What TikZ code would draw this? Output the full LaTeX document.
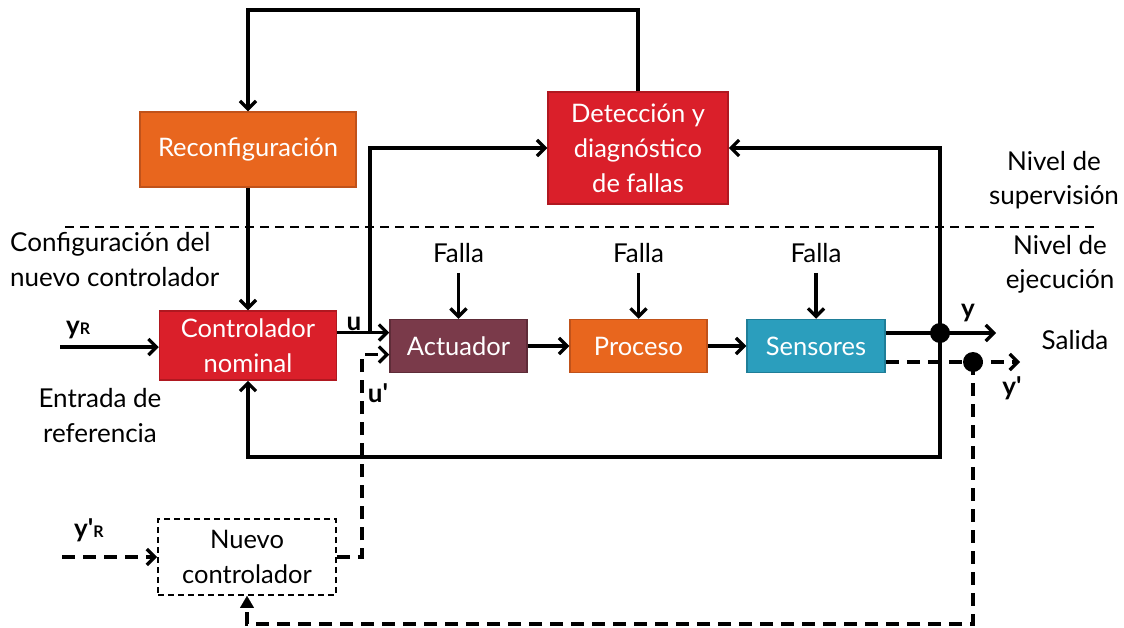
\documentclass[tikz,border=0pt]{standalone}
\usepackage{fontspec}
\setmainfont{Lato}[Ligatures=TeXOff]
\usetikzlibrary{arrows.meta,calc}
\definecolor{cred}{HTML}{DA1F2A}
\definecolor{credb}{HTML}{B01820}
\definecolor{corange}{HTML}{E8661E}
\definecolor{coranb}{HTML}{C0521A}
\definecolor{cmaroon}{HTML}{7A3A4A}
\definecolor{cmarb}{HTML}{5E2C38}
\definecolor{cteal}{HTML}{2B9EBD}
\definecolor{ctealb}{HTML}{1F7E98}
\tikzset{
  blk/.style={draw, line width=1.5pt, text=white, align=center, inner sep=2pt, font=\fontsize{25.5}{35}\selectfont},
  arr/.style={line width=3.3pt, -{Straight Barb[length=8pt,width=16pt,line width=3.3pt]}},
  darr/.style={arr, dash pattern=on 13pt off 8pt},
  tarr/.style={line width=3.3pt, dash pattern=on 13pt off 8pt, -{Triangle[length=12pt,width=14pt,line width=0.1pt]}},
  lbl/.style={align=center, inner sep=0pt},
  dot/.style={circle, fill=black, inner sep=0pt, minimum size=20pt},
}
\begin{document}
\begin{tikzpicture}[x=1pt,y=-1pt,font=\fontsize{26}{34.5}\selectfont]
\useasboundingbox (0,0) rectangle (1124,627);
% blocks
\node[blk, fill=corange, draw=coranb, minimum width=216pt, minimum height=75pt] (reconf) at (248,149.5) {Reconfiguración};
\node[blk, fill=cred, draw=credb, minimum width=180pt, minimum height=112pt] (detec) at (638,148) {Detección y\\diagnóstico\\de fallas};
\node[blk, fill=cred, draw=credb, minimum width=177pt, minimum height=69pt] (ctrl) at (248,345.5) {Controlador\\nominal};
\node[blk, fill=cmaroon, draw=cmarb, minimum width=137pt, minimum height=53pt] (act) at (458.5,346) {Actuador};
\node[blk, fill=corange, draw=coranb, minimum width=137pt, minimum height=53pt] (proc) at (638.5,346) {Proceso};
\node[blk, fill=cteal, draw=ctealb, minimum width=138pt, minimum height=53pt] (sens) at (816,346) {Sensores};
\node[blk, draw=black, text=black, line width=1.8pt, dash pattern=on 6pt off 4pt, minimum width=178pt, minimum height=76pt] (nuevo) at (247,557) {Nuevo\\controlador};
% falla
\node[lbl, inner ysep=10pt] (f1) at (458.5,253) {Falla};
\node[lbl, inner ysep=10pt] (f2) at (638.5,253) {Falla};
\node[lbl, inner ysep=10pt] (f3) at (816,253) {Falla};
\draw[arr] (f1.south) -- (act.north);
\draw[arr] (f2.south) -- (proc.north);
\draw[arr] (f3.south) -- (sens.north);
% texts
\node[lbl, align=left, anchor=west] (conf) at (10,259.5) {Configuración del\\nuevo controlador};
\node[lbl] (entr) at (100,415.5) {Entrada de\\referencia};
\node[lbl] (nsup) at (1054,180) {Nivel de\\supervisión};
\node[lbl] (neje) at (1060,264.5) {Nivel de\\ejecución};
\node[lbl] (sal) at (1075,340) {Salida};
\node[lbl] (ulab) at (354,324) {\bfseries u};
\node[lbl] (ulab2) at (378,393) {\bfseries u'};
\node[lbl] (ylab) at (968,313) {\bfseries y};
\node[lbl] (ylab2) at (1012,388) {\bfseries y'};
\node[lbl, anchor=base west] (yr) at (66,334) {\bfseries y{\fontsize{16}{16}\selectfont R}};
\node[lbl, anchor=base west] (yr2) at (74,537) {\bfseries y'{\fontsize{16}{16}\selectfont R}};
% separator
\coordinate (s1) at (65,227);
\coordinate (s2) at (1095,227);
\draw[line width=1.8pt, dash pattern=on 9pt off 6pt] (s1) -- (s2);
% coordinates
\coordinate (uin) at ([yshift=13.5pt]act.west);
\coordinate (uin2) at ([yshift=-8.5pt]act.west);
\coordinate (ub) at (uin -| 370,0);
\coordinate (yro) at (60,347);
\coordinate (yro2) at (62,557);
\coordinate (top) at (638,10);
\coordinate (sout) at ([yshift=13pt]sens.east);
\coordinate (sout2) at ([yshift=-16pt]sens.east);
\coordinate (yend) at (sout -| 996,0);
\coordinate (yend2) at (sout2 -| 1020,0);
\coordinate (bot) at (940,457);
\coordinate (bot2) at (973,624);
\coordinate (nv) at (362,557);
% connectors
\draw[arr] (detec.north) -- (top) -| (reconf.north);
\draw[arr] (reconf.south) -- (ctrl.north);
\draw[arr] (yro) -- (yro -| ctrl.west);
\draw[arr] (uin -| ctrl.east) -- (uin);
\draw[arr] (ub) |- (detec.west);
\draw[arr] (act.east) -- (proc.west);
\draw[arr] (proc.east) -- (sens.west);
\draw[arr] (sout) -- (yend);
\node[dot] (d1) at (sout -| 940,0) {};
\draw[arr] (d1.center) |- (detec.east);
\draw[arr] (d1.center) -- (bot) -| (ctrl.south);
\draw[darr] (sout2) -- (yend2);
\node[dot] (d2) at (sout2 -| 973,0) {};
\draw[tarr] (d2.center) -- (bot2) -| (nuevo.south);
\draw[darr] (yro2) -- (nuevo.west);
\draw[darr] (nuevo.east) -- (nv) |- (uin2);
\end{tikzpicture}
\end{document}
